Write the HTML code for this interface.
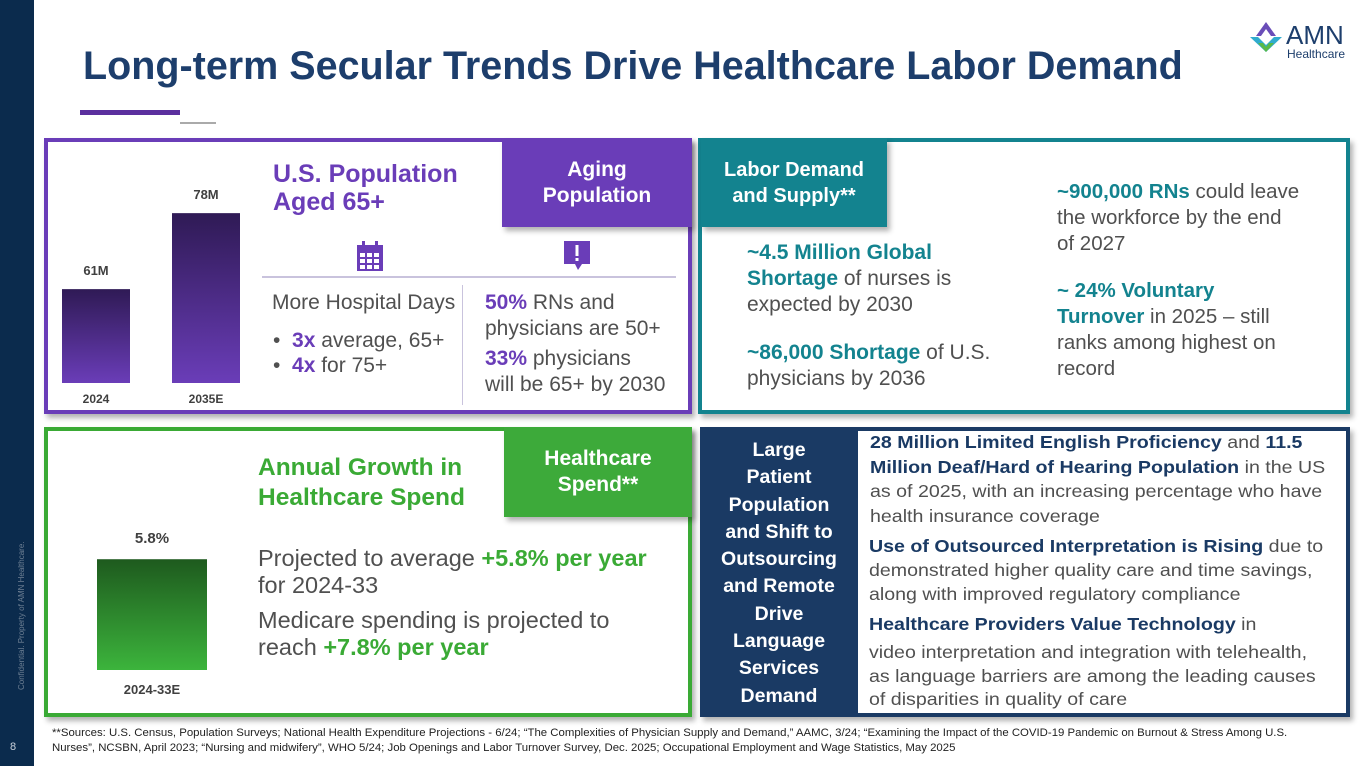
<!DOCTYPE html>
<html><head><meta charset="utf-8"><style>
*{margin:0;padding:0;box-sizing:border-box}
body{width:1365px;height:766px;background:#fff;font-family:"Liberation Sans",Arial,sans-serif;position:relative;overflow:hidden}
.a{position:absolute;white-space:nowrap}
.t{font-size:19.5px;color:#505050;line-height:26px}
.pu{color:#6a3db8;font-weight:bold}
.te{color:#13838f;font-weight:bold}
.gr{color:#3aaa35;font-weight:bold}
.nv{color:#1a3a64;font-weight:bold}
.panel{position:absolute;border:4px solid;box-shadow:3px 4px 5px rgba(0,0,0,.3)}
.tab{position:absolute;color:#fff;font-weight:bold;font-size:20px;line-height:26px;text-align:center;display:flex;align-items:center;justify-content:center;box-shadow:3px 4px 5px rgba(0,0,0,.3)}
.sx{transform-origin:0 0}
</style></head><body>
<div class="a" style="left:0;top:0;width:34px;height:766px;background:#0b2b4d"></div>
<div class="a" style="left:17px;top:690px;transform:rotate(-90deg);transform-origin:0 0;font-size:8px;color:#6d7f93">Confidential. Property of AMN Healthcare.</div>
<div class="a" style="left:10px;top:741px;font-size:11px;color:#c8d0da">8</div>
<div class="a" style="left:83px;top:44px;font-size:39.5px;font-weight:bold;color:#1d3e6c">Long-term Secular Trends Drive Healthcare Labor Demand</div>
<div class="a" style="left:80px;top:110px;width:100px;height:5px;background:#5b2f9e"></div>
<div class="a" style="left:180px;top:122px;width:36px;height:2px;background:#aaa"></div>
<div class="a" style="left:1250px;top:22px">
<svg width="32" height="30" viewBox="0 0 32 30"><polygon points="16,0 6,14 11,14 16,7 21,14 26,14" fill="#6a4db8"/><polygon points="0,15 8,15 16,23 24,15 32,15 16,30" fill="#1aa3c9" opacity=".9"/><polygon points="8,21 13,21 16,25 19,21 24,21 16,30" fill="#5ab947"/></svg>
<span class="a" style="left:36px;top:-2px;font-size:26px;color:#1d3e6c;font-weight:normal">AMN</span>
<span class="a" style="left:37px;top:25px;font-size:12px;color:#1d3e6c">Healthcare</span></div>

<div class="panel" style="left:44px;top:138px;width:648px;height:276px;border-color:#6a3db8"></div>
<div class="tab" style="left:502px;top:138px;width:190px;height:89px;background:#6a3db8;font-size:21px">Aging<br>Population</div>
<svg class="a" style="left:0;top:0" width="700" height="420" id="popchart">
<defs><linearGradient id="pg" x1="0" y1="0" x2="0" y2="1"><stop offset="0" stop-color="#2f1a55"/><stop offset="1" stop-color="#6a3db8"/></linearGradient>
<linearGradient id="gg" x1="0" y1="0" x2="0" y2="1"><stop offset="0" stop-color="#1e5a1e"/><stop offset="1" stop-color="#3cb43c"/></linearGradient></defs></svg>
<div class="a pu" style="left:273px;top:160px;font-size:25px;line-height:28px">U.S. Population<br>Aged 65+</div>
<svg class="a" style="left:355px;top:240px" width="30" height="32"><rect x="2" y="5" width="26" height="26" fill="#6a3db8"/><g fill="#fff"><rect x="5" y="13" width="5" height="4"/><rect x="12" y="13" width="5" height="4"/><rect x="19" y="13" width="5" height="4"/><rect x="5" y="19" width="5" height="4"/><rect x="12" y="19" width="5" height="4"/><rect x="19" y="19" width="5" height="4"/><rect x="5" y="25" width="5" height="4"/><rect x="12" y="25" width="5" height="4"/><rect x="19" y="25" width="5" height="4"/></g><rect x="7" y="1" width="3" height="7" fill="#6a3db8"/><rect x="20" y="1" width="3" height="7" fill="#6a3db8"/></svg>
<svg class="a" style="left:563px;top:240px" width="30" height="32"><path d="M1 1H27V24H19L15 30L12 24H1Z" fill="#6a3db8"/><rect x="12.5" y="5" width="3" height="11" fill="#fff"/><rect x="12.5" y="18" width="3" height="3" fill="#fff"/></svg>
<div class="a" style="left:262px;top:276px;width:414px;height:2px;background:#c9c3dd"></div>
<div class="a" style="left:462px;top:285px;width:1px;height:120px;background:#c9c3dd"></div>
<div class="a t" style="left:272px;top:290px;font-size:21px">More Hospital Days</div>
<div class="a t" style="left:273px;top:328px;font-size:21px">•&nbsp; <span class="pu">3x</span> average, 65+</div>
<div class="a t" style="left:273px;top:353px;font-size:21px">•&nbsp; <span class="pu">4x</span> for 75+</div>
<div class="a t" style="left:485px;top:290px;font-size:21px"><span class="pu">50%</span> RNs and<br>physicians are 50+</div>
<div class="a t" style="left:485px;top:346px;font-size:21px"><span class="pu">33%</span> physicians<br>will be 65+ by 2030</div>

<div class="panel" style="left:698px;top:138px;width:652px;height:276px;border-color:#13838f"></div>
<div class="tab" style="left:701px;top:138px;width:186px;height:89px;background:#13838f;font-size:20px">Labor Demand<br>and Supply**</div>
<div class="a t" style="left:747px;top:240px;font-size:21px"><span class="te">~4.5 Million Global<br>Shortage</span> of nurses is<br>expected by 2030</div>
<div class="a t" style="left:747px;top:340px;font-size:21px"><span class="te">~86,000 Shortage</span> of U.S.<br>physicians by 2036</div>
<div class="a t" style="left:1057px;top:179px;font-size:20.5px"><span class="te">~900,000 RNs</span> could leave<br>the workforce by the end<br>of 2027</div>
<div class="a t" style="left:1057px;top:278px;font-size:20.5px"><span class="te">~ 24% Voluntary<br>Turnover</span> in 2025 – still<br>ranks among highest on<br>record</div>

<div class="panel" style="left:44px;top:427px;width:648px;height:290px;border-color:#3aaa35"></div>
<div class="tab" style="left:504px;top:427px;width:188px;height:90px;background:#3daa3a;font-size:21px">Healthcare<br>Spend**</div>
<svg class="a" style="left:0;top:420px" width="300" height="290" id="spendchart"></svg>
<div class="a gr" style="left:258px;top:453px;font-size:24.5px;line-height:30px">Annual Growth in<br>Healthcare Spend</div>
<div class="a t" style="left:258px;top:545px;font-size:23.5px;line-height:27px">Projected to average <span class="gr">+5.8% per year</span><br>for 2024-33</div>
<div class="a t" style="left:258px;top:607px;font-size:23.5px;line-height:27px">Medicare spending is projected to<br>reach <span class="gr">+7.8% per year</span></div>

<div class="panel" style="left:700px;top:427px;width:650px;height:290px;border-color:#1a3a64"></div>
<div class="a" style="left:700px;top:427px;width:158px;height:290px;background:#1a3a64;color:#fff;font-weight:bold;font-size:19.5px;line-height:27.3px;text-align:center;padding-top:10px;white-space:normal">Large<br>Patient<br>Population<br>and Shift to<br>Outsourcing<br>and Remote<br>Drive<br>Language<br>Services<br>Demand</div>
<div class="a t sx" style="left:870px;top:430px;font-size:17.5px;line-height:24.5px;transform:scaleX(1.12)"><span class="nv">28 Million Limited English Proficiency</span> and <span class="nv">11.5<br>Million Deaf/Hard of Hearing Population</span> in the US<br>as of 2025, with an increasing percentage who have<br>health insurance coverage</div>
<div class="a t sx" style="left:869px;top:534px;font-size:17.5px;line-height:24px;transform:scaleX(1.12)"><span class="nv">Use of Outsourced Interpretation is Rising</span> due to<br>demonstrated higher quality care and time savings,<br>along with improved regulatory compliance</div>
<div class="a t sx" style="left:869px;top:612px;font-size:17.5px;line-height:24px;transform:scaleX(1.12)"><span class="nv">Healthcare Providers Value Technology</span> in</div>
<div class="a t sx" style="left:869px;top:641px;font-size:17.5px;line-height:23.5px;transform:scaleX(1.12)">video interpretation and integration with telehealth,<br>as language barriers are among the leading causes<br>of disparities in quality of care</div>

<div class="a" style="left:52px;top:726px;font-size:11.4px;line-height:15px;color:#222">**Sources: U.S. Census, Population Surveys; National Health Expenditure Projections - 6/24; “The Complexities of Physician Supply and Demand,” AAMC, 3/24; “Examining the Impact of the COVID-19 Pandemic on Burnout &amp; Stress Among U.S.<br>Nurses”, NCSBN, April 2023; “Nursing and midwifery”, WHO 5/24; Job Openings and Labor Turnover Survey, Dec. 2025; Occupational Employment and Wage Statistics, May 2025</div>
<script>
const popYears=["2024","2035E"];
const popValues=[61,78];
const popLabels=["61M","78M"];
const spendCats=["2024-33E"];
const spendValues=[5.8];
const spendLabels=["5.8%"];
const NS="http://www.w3.org/2000/svg";
function mk(svg,tag,at,txt){const e=document.createElementNS(NS,tag);for(const k in at)e.setAttribute(k,at[k]);if(txt)e.textContent=txt;svg.appendChild(e);return e;}
const popY=v=>383-(v-40)*4.47;
const popX=i=>62+i*110;
const ps=document.getElementById('popchart');
popValues.forEach((v,i)=>{
 const r=mk(ps,'rect',{x:popX(i),y:popY(v),width:68,height:383-popY(v),fill:'url(#pg)'});
 
 
 const l=mk(ps,'text',{x:popX(i)+34,y:popY(v)-14,'text-anchor':'middle','font-size':13,'font-weight':'bold',fill:'#404040'},popLabels[i]);
 
 
 const c=mk(ps,'text',{x:popX(i)+34,y:403,'text-anchor':'middle','font-size':12,'font-weight':'bold',fill:'#404040'},popYears[i]);
 
 
});
const spY=v=>250-v*19.1;
const ss=document.getElementById('spendchart');
spendValues.forEach((v,i)=>{
 const r=mk(ss,'rect',{x:97,y:spY(v),width:110,height:250-spY(v),fill:'url(#gg)'});
 
 
 const l=mk(ss,'text',{x:152,y:spY(v)-16,'text-anchor':'middle','font-size':15,'font-weight':'bold',fill:'#404040'},spendLabels[i]);
 
 
 const c=mk(ss,'text',{x:152,y:274,'text-anchor':'middle','font-size':13,'font-weight':'bold',fill:'#404040'},spendCats[i]);
 
 
});
</script>
</body></html>
